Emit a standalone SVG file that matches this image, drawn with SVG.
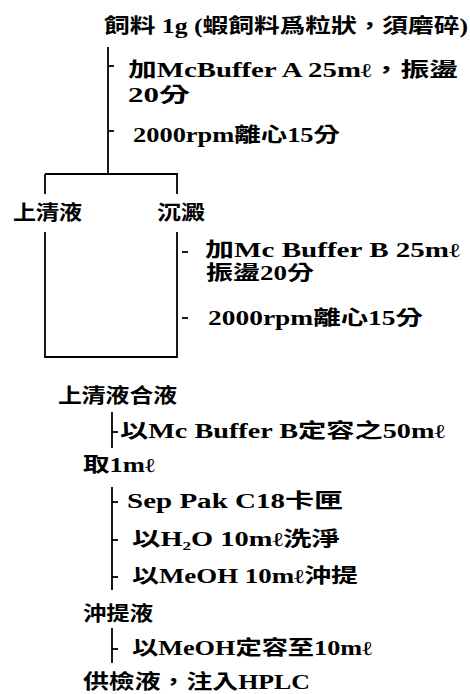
<svg xmlns="http://www.w3.org/2000/svg" width="470" height="694" viewBox="0 0 470 694">
<style>
text{font-family:"Liberation Serif","Noto Sans CJK TC",serif;font-weight:bold;font-size:20px;fill:#000}
.c line{stroke:#000;stroke-width:1.8;fill:none}
</style>
<rect width="470" height="694" fill="#fff"/>
<g class="c" id="connectors">
<line x1="108" y1="47" x2="108" y2="175"/>
<line x1="108" y1="66" x2="114" y2="66"/>
<line x1="108" y1="131" x2="114" y2="131"/>
<line x1="45" y1="174" x2="178" y2="174"/>
<line x1="45" y1="174" x2="45" y2="194"/>
<line x1="177" y1="174" x2="177" y2="194"/>
<line x1="45" y1="232" x2="45" y2="358"/>
<line x1="177" y1="232" x2="177" y2="358"/>
<line x1="45" y1="357" x2="177" y2="357"/>
<line x1="182" y1="252" x2="188" y2="252"/>
<line x1="182" y1="318" x2="188" y2="318"/>
<line x1="112" y1="412" x2="112" y2="448"/>
<line x1="112" y1="432" x2="118" y2="432"/>
<line x1="112" y1="487" x2="112" y2="590"/>
<line x1="112" y1="502" x2="118" y2="502"/>
<line x1="112" y1="540" x2="118" y2="540"/>
<line x1="112" y1="577" x2="118" y2="577"/>
<line x1="112" y1="628" x2="112" y2="663"/>
<line x1="112" y1="649" x2="118" y2="649"/>
</g>
<g id="n-feed"><text x="104" y="33" textLength="364" lengthAdjust="spacingAndGlyphs">飼料 1g (蝦飼料爲粒狀，須磨碎)</text></g>
<g id="n-stepA1"><text x="128" y="77" textLength="330" lengthAdjust="spacingAndGlyphs">加McBuffer A 25mℓ，振盪</text><text x="128" y="102" textLength="62" lengthAdjust="spacingAndGlyphs">20分</text></g>
<g id="n-stepA2"><text x="133" y="142" textLength="207" lengthAdjust="spacingAndGlyphs">2000rpm離心15分</text></g>
<g id="n-super"><text x="13" y="220" textLength="69" lengthAdjust="spacingAndGlyphs">上清液</text></g>
<g id="n-sediment"><text x="157" y="220" textLength="48" lengthAdjust="spacingAndGlyphs">沉澱</text></g>
<g id="n-stepB1"><text x="205" y="257" textLength="255" lengthAdjust="spacingAndGlyphs">加Mc Buffer B 25mℓ</text><text x="206" y="280" textLength="108" lengthAdjust="spacingAndGlyphs">振盪20分</text></g>
<g id="n-stepB2"><text x="208" y="325" textLength="215" lengthAdjust="spacingAndGlyphs">2000rpm離心15分</text></g>
<g id="n-combined"><text x="58" y="403" textLength="119" lengthAdjust="spacingAndGlyphs">上清液合液</text></g>
<g id="n-dilute"><text x="120" y="438" textLength="325" lengthAdjust="spacingAndGlyphs">以Mc Buffer B定容之50mℓ</text></g>
<g id="n-take"><text x="83" y="472" textLength="72" lengthAdjust="spacingAndGlyphs">取1mℓ</text></g>
<g id="n-seppak"><text x="127" y="508" textLength="216" lengthAdjust="spacingAndGlyphs">Sep Pak C18卡匣</text></g>
<g id="n-wash"><text x="132" y="546" textLength="208" lengthAdjust="spacingAndGlyphs">以H₂O 10mℓ洗淨</text></g>
<g id="n-elute"><text x="132" y="583" textLength="226" lengthAdjust="spacingAndGlyphs">以MeOH 10mℓ沖提</text></g>
<g id="n-eluate"><text x="83" y="621" textLength="70" lengthAdjust="spacingAndGlyphs">沖提液</text></g>
<g id="n-makeup"><text x="132" y="655" textLength="240" lengthAdjust="spacingAndGlyphs">以MeOH定容至10mℓ</text></g>
<g id="n-final"><text x="83" y="689" textLength="227" lengthAdjust="spacingAndGlyphs">供檢液，注入HPLC</text></g>
</svg>
